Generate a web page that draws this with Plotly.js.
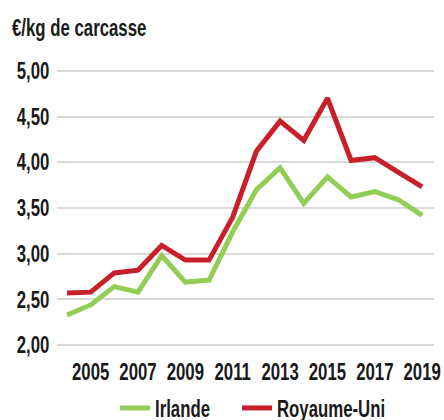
<!DOCTYPE html>
<html>
<head>
<meta charset="utf-8">
<script src="https://cdn.plot.ly/plotly-3.0.1.min.js"></script>
<style>html,body{margin:0;padding:0;background:#fff;}#chart{width:444px;height:420px;}</style>
</head>
<body>
<div id="chart"></div>
<script>
const years = [2004,2005,2006,2007,2008,2009,2010,2011,2012,2013,2014,2015,2016,2017,2018,2019];
const irlande = [2.33,2.44,2.64,2.58,2.98,2.69,2.71,3.24,3.70,3.94,3.55,3.84,3.62,3.68,3.59,3.42];
const royaumeUni = [2.57,2.58,2.79,2.82,3.09,2.93,2.93,3.40,4.12,4.45,4.24,4.70,4.02,4.05,3.89,3.73];
const yTicks = [2,2.5,3,3.5,4,4.5,5];
const yTickLabels = ['2,00','2,50','3,00','3,50','4,00','4,50','5,00'];
const xTicks = [2005,2007,2009,2011,2013,2015,2017,2019];
const unitLabel = '€/kg de carcasse';

const FONT = '"Liberation Sans", Arial, sans-serif';
const TXT = '#1a1a1a';
const SQUEEZE = 0.73;

function f(size) { return {family: FONT, size: size, color: TXT, weight: 'bold'}; }

const traces = [
  {x: years, y: irlande, name: 'Irlande', type: 'scatter', mode: 'lines',
   line: {color: '#92CD55', width: 5}},
  {x: years, y: royaumeUni, name: 'Royaume-Uni', type: 'scatter', mode: 'lines',
   line: {color: '#C8202A', width: 5}}
];

const layout = {
  width: 444, height: 420,
  margin: {l: 57, r: 10, t: 69, b: 73, pad: 0, autoexpand: false},
  paper_bgcolor: '#fff', plot_bgcolor: '#fff',
  font: f(23),
  showlegend: true,
  legend: {orientation: 'h', x: 115/444, xref: 'container', xanchor: 'left',
           y: 12/420, yref: 'container', yanchor: 'middle',
           font: f(23),
           itemwidth: 30, entrywidth: 77, entrywidthmode: 'pixels',
           bgcolor: 'rgba(0,0,0,0)', tracegroupgap: 0},
  title: {text: unitLabel, x: 12/444, xanchor: 'left', xref: 'container',
          y: 1 - 28/420, yanchor: 'middle', yref: 'container',
          font: f(23)},
  xaxis: {range: [2003.58, 2019.5], tickvals: xTicks, ticktext: xTicks.map(String),
          tickangle: 0, showgrid: false, zeroline: false, showline: false,
          ticks: 'outside', ticklen: 4, tickcolor: 'rgba(0,0,0,0)',
          ticklabeloverflow: 'allow',
          tickfont: f(23), fixedrange: true},
  yaxis: {range: [1.98, 5.02], tickvals: yTicks, ticktext: yTickLabels,
          showgrid: true, gridcolor: '#d9d9d9', gridwidth: 2, zeroline: false, showline: false,
          ticks: 'outside', ticklen: 2, tickcolor: 'rgba(0,0,0,0)',
          ticklabeloverflow: 'allow',
          tickfont: f(23), fixedrange: true}
};

function squeezeText(gd) {
  const nodes = gd.querySelectorAll('.xtick text, .ytick text, .gtitle, .legendtext');
  nodes.forEach(function (t) {
    const x = parseFloat(t.getAttribute('x') || '0');
    const base = t.getAttribute('transform') || '';
    t.setAttribute('transform', base + ' translate(' + x + ',0) scale(' + SQUEEZE + ',1) translate(' + (-x) + ',0)');
  });
  gd.querySelectorAll('.legend [clip-path]').forEach(function (n) { n.removeAttribute('clip-path'); });
}

Plotly.newPlot('chart', traces, layout, {displayModeBar: false, staticPlot: true})
  .then(squeezeText);
</script>
</body>
</html>
